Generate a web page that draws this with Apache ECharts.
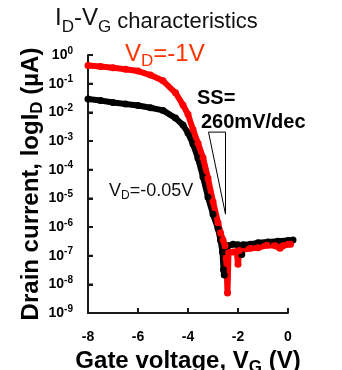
<!DOCTYPE html>
<html><head><meta charset="utf-8">
<script src="https://cdn.jsdelivr.net/npm/echarts@6/dist/echarts.min.js"></script>
<style>html,body{margin:0;padding:0;background:#fff}#c{width:342px;height:370px}</style>
</head><body><div id="c"></div>
<script>
// V_D = -0.05 V (black)
const vgBlack = [-8.0,-7.5,-7.0,-6.5,-6.0,-5.5,-5.0,-4.5,-4.2,-4.0,-3.8,-3.6,-3.4,-3.2,-3.0,-2.8,-2.7,-2.62,-2.58,-2.55,-2.5,-2.4,-2.2,-2.0,-1.85,-1.8,-1.5,-1.2,-0.8,-0.4,0.0,0.2];
const idBlack = [0.029,0.026,0.022,0.0195,0.0174,0.0145,0.0117,0.0063,0.0036,0.0019,7.9e-4,2.5e-4,5.6e-5,1.1e-5,2.8e-6,8.9e-7,3.5e-7,1.35e-7,3.2e-8,2.1e-8,1.4e-7,2.2e-7,2.5e-7,2.4e-7,1.1e-7,2.4e-7,2.5e-7,2.8e-7,3.0e-7,3.2e-7,3.4e-7,3.5e-7];
// V_D = -1 V (red)
const vgRed = [-8.0,-7.5,-7.0,-6.5,-6.0,-5.5,-5.0,-4.5,-4.2,-4.0,-3.8,-3.6,-3.4,-3.2,-3.0,-2.8,-2.7,-2.6,-2.52,-2.47,-2.42,-2.38,-2.2,-2.05,-2.0,-1.95,-1.5,-1.2,-0.85,-0.5,-0.32,-0.2,0.0,0.1];
const idRed = [0.43,0.40,0.36,0.32,0.275,0.20,0.126,0.048,0.018,0.0085,0.0025,8.3e-4,2.6e-4,5.0e-5,7.6e-6,1.4e-6,6.3e-7,3.5e-7,2.2e-7,7.9e-8,5.0e-9,1.26e-7,1.35e-7,1.4e-7,5.0e-8,1.5e-7,1.8e-7,1.9e-7,2.3e-7,2.2e-7,1.8e-7,2.2e-7,2.5e-7,2.5e-7];
// subthreshold-slope triangle (data coords)
const triVg = [-3.18,-2.5,-2.5,-3.18];
const triId = [2.04e-3,2.04e-3,2.8e-6,2.04e-3];
// axis ticks
const xTicks = [-8,-6,-4,-2,0];
const yTicks = [1,1e-1,1e-2,1e-3,1e-4,1e-5,1e-6,1e-7,1e-8,1e-9];
const xMin = -8, xMax = 0, xStep = 2;
const yMin = 1e-9, yMax = 1;

const FF = "'Liberation Sans', Arial, Helvetica, sans-serif";
const AX = '#1a1a1a';
const chart = echarts.init(document.getElementById('c'));
const pair = (xs, ys) => xs.map((v,i)=>[v, ys[i]]);

chart.setOption({
  animation:false,
  backgroundColor:'#fff',
  grid:{left:88,right:54,top:55,bottom:57,outerBoundsMode:'none'},
  xAxis:{
    type:'value', min:xMin, max:xMax, interval:xStep,
    axisLine:{show:true,onZero:false,lineStyle:{color:AX,width:2}},
    axisTick:{show:true,inside:true,length:5,lineStyle:{color:AX,width:2}},
    splitLine:{show:false},
    axisLabel:{color:'#000',fontFamily:FF,fontSize:14,fontWeight:'bold',margin:17},
    name:'{n|Gate voltage, V}{s|G}{n| (V)}',
    nameLocation:'middle', nameGap:33,
    nameTextStyle:{fontFamily:FF,color:'#000',rich:{
      n:{fontFamily:FF,fontSize:24,fontWeight:'bold',color:'#000'},
      s:{fontFamily:FF,fontSize:17,fontWeight:'bold',color:'#000',padding:[12,0,0,0]}
    }}
  },
  yAxis:{
    type:'log', logBase:10, min:yMin, max:yMax, splitNumber:9,
    axisLine:{show:true,onZero:false,lineStyle:{color:AX,width:2}},
    axisTick:{show:true,inside:true,length:5,lineStyle:{color:AX,width:2}},
    splitLine:{show:false},
    axisLabel:{margin:15,fontFamily:FF,color:'#000',
      formatter:function(v){const e=Math.round(Math.log10(v));return '{b|10}{s|'+e+'}';},
      rich:{
        b:{fontFamily:FF,fontSize:14,fontWeight:'bold',color:'#000'},
        s:{fontFamily:FF,fontSize:10,fontWeight:'bold',color:'#000',padding:[0,0,8,0]}
      }},
    name:'{n|Drain current, logI}{s|D}{n| (µA)}',
    nameLocation:'middle', nameGap:42, nameRotate:90, nameMoveOverlap:false,
    nameTextStyle:{fontFamily:FF,color:'#000',rich:{
      n:{fontFamily:FF,fontSize:24,fontWeight:'bold',color:'#000'},
      s:{fontFamily:FF,fontSize:17,fontWeight:'bold',color:'#000',padding:[12,0,0,0]}
    }}
  },
  series:[
    {type:'line',name:'axes',data:[[xMin,yMax],[xMin,yMin],[xMax,yMin]],clip:false,symbol:'none',z:1,
     lineStyle:{color:AX,width:2},silent:true},
    {type:'scatter',name:'xticks',data:xTicks.map(v=>[v,yMin]),symbol:'rect',symbolSize:[2,5],
     symbolOffset:[0,-2.5],itemStyle:{color:AX},z:1,silent:true,clip:false},
    {type:'scatter',name:'yticks',data:yTicks.map(v=>[xMin,v]),symbol:'rect',symbolSize:[5,2],
     symbolOffset:[2.5,0],itemStyle:{color:AX},z:1,silent:true,clip:false},
    {type:'line',name:'VD=-0.05V',data:pair(vgBlack,idBlack),clip:false,
     symbol:'circle',symbolSize:7,itemStyle:{color:'#000'},lineStyle:{color:'#000',width:6}},
    {type:'line',name:'VD=-1V',data:pair(vgRed,idRed),clip:false,
     symbol:'circle',symbolSize:7,itemStyle:{color:'#ff0000'},lineStyle:{color:'#ff0000',width:6}},
    {type:'line',name:'SS',data:pair(triVg,triId),clip:false,symbol:'none',
     lineStyle:{color:'#000',width:1}}
  ],
  graphic:[
    {type:'text',left:55,top:6,style:{
      text:'{m|I}{s|D}{m|-V}{s|G}{c| characteristics}',fill:'#111',
      rich:{
        m:{fontFamily:FF,fontSize:24,fill:'#111'},
        s:{fontFamily:FF,fontSize:17,fill:'#111',padding:[18,0,0,0]},
        c:{fontFamily:FF,fontSize:22,fill:'#111',padding:[7,0,0,0]}
      }}},
    {type:'text',x:125,y:54,style:{
      text:'{m|V}{s|D}{m|=-1V}',verticalAlign:'middle',
      rich:{
        m:{fontFamily:FF,fontSize:24,fill:'#ff3300'},
        s:{fontFamily:FF,fontSize:17,fill:'#ff3300',padding:[14,0,0,0]}
      }}},
    {type:'text',x:109,y:191,style:{
      text:'{m|V}{s|D}{m|=-0.05V}',verticalAlign:'middle',
      rich:{
        m:{fontFamily:FF,fontSize:18,fill:'#111'},
        s:{fontFamily:FF,fontSize:12,fill:'#111',padding:[10,0,0,0]}
      }}},
    {type:'text',x:197,y:98,style:{text:'SS=',verticalAlign:'middle',
      font:"bold 20px 'Liberation Sans', Arial, sans-serif",fill:'#000'}},
    {type:'text',x:201,y:122,style:{text:'260mV/dec',verticalAlign:'middle',
      font:"bold 20px 'Liberation Sans', Arial, sans-serif",fill:'#000'}}
  ]
});
</script></body></html>
